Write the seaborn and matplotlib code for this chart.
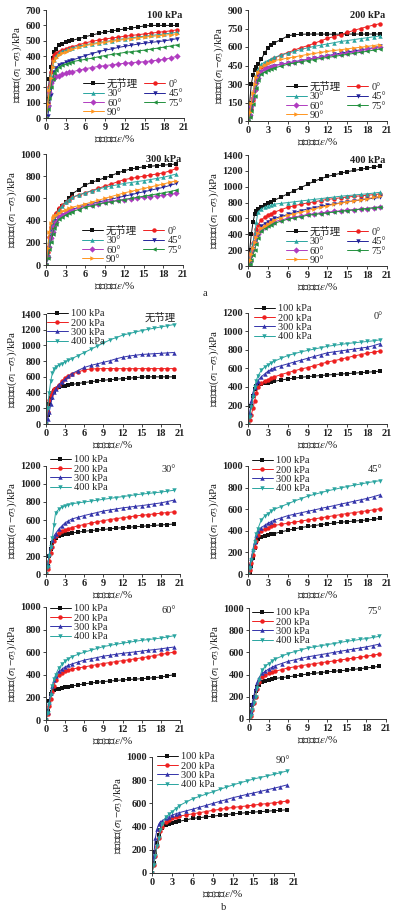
import numpy as np
import pandas as pd
import seaborn as sns
import matplotlib.pyplot as plt

# axial strain (%) shared by all curves
strain = [0, 0.25, 0.5, 0.75, 1, 1.25, 1.5, 2, 2.5, 3, 3.5, 4, 5, 6, 7, 8, 9, 10,
          11, 12, 13, 14, 15, 16, 17, 18, 19, 20]

# deviator stress (kPa), confining pressure 100 kPa
p100_none = [0, 120, 250, 330, 390, 425, 450, 470, 480, 490, 497, 503, 515, 527, 538, 548, 557, 564, 571, 577, 583, 590, 597, 600, 600, 600, 600, 600]
p100_0 = [0, 100, 200, 300, 380, 410, 420, 430, 440, 448, 455, 462, 475, 487, 497, 505, 512, 518, 524, 530, 535, 540, 545, 550, 555, 560, 565, 572]
p100_30 = [0, 90, 200, 280, 340, 375, 400, 420, 432, 440, 448, 455, 466, 475, 482, 489, 495, 502, 509, 515, 520, 525, 530, 535, 540, 545, 550, 555]
p100_45 = [0, 10, 70, 150, 240, 295, 325, 345, 353, 360, 368, 375, 390, 405, 418, 430, 440, 448, 457, 465, 472, 479, 485, 490, 495, 500, 507, 515]
p100_60 = [0, 80, 170, 230, 250, 262, 270, 275, 282, 290, 295, 300, 310, 320, 327, 334, 340, 345, 350, 355, 359, 362, 365, 370, 375, 380, 390, 400]
p100_75 = [0, 60, 130, 200, 250, 290, 310, 330, 342, 350, 358, 365, 373, 380, 388, 397, 405, 412, 418, 425, 430, 435, 440, 447, 453, 460, 467, 475]
p100_90 = [0, 90, 180, 260, 330, 370, 390, 410, 421, 430, 438, 445, 458, 470, 477, 484, 490, 497, 503, 510, 515, 520, 525, 529, 533, 537, 541, 545]

# 200 kPa
p200_none = [0, 150, 300, 370, 410, 440, 460, 500, 550, 590, 615, 635, 660, 690, 700, 703, 705, 705, 705, 704, 704, 704, 705, 705, 705, 705, 705, 705]
p200_0 = [0, 40, 100, 170, 250, 330, 400, 440, 462, 480, 495, 510, 535, 555, 575, 595, 610, 630, 650, 670, 685, 700, 718, 735, 750, 765, 778, 790]
p200_30 = [0, 60, 140, 230, 300, 370, 420, 460, 478, 490, 503, 515, 535, 550, 565, 580, 593, 605, 615, 625, 635, 645, 652, 660, 668, 675, 683, 690]
p200_45 = [0, 40, 100, 180, 250, 310, 360, 400, 418, 430, 440, 450, 460, 470, 480, 490, 500, 510, 520, 530, 540, 550, 560, 568, 577, 585, 595, 605]
p200_60 = [0, 50, 120, 190, 250, 305, 350, 400, 418, 430, 440, 450, 460, 470, 480, 490, 500, 508, 517, 525, 533, 542, 550, 560, 570, 580, 590, 600]
p200_75 = [0, 30, 80, 140, 200, 270, 330, 380, 398, 410, 420, 430, 445, 460, 470, 480, 490, 498, 507, 515, 523, 532, 540, 548, 557, 565, 575, 585]
p200_90 = [0, 70, 150, 230, 300, 360, 400, 440, 458, 470, 480, 490, 500, 510, 520, 530, 540, 548, 557, 565, 572, 578, 585, 592, 598, 605, 612, 620]

# 300 kPa
p300_none = [0, 60, 150, 250, 350, 410, 450, 500, 535, 570, 605, 640, 680, 720, 745, 765, 785, 805, 830, 850, 865, 875, 885, 890, 895, 900, 905, 910]
p300_0 = [0, 120, 250, 340, 400, 440, 470, 510, 540, 570, 590, 610, 630, 650, 670, 690, 710, 730, 750, 770, 780, 790, 800, 810, 820, 830, 848, 870]
p300_30 = [0, 100, 220, 310, 380, 420, 450, 500, 535, 570, 590, 610, 630, 650, 667, 683, 700, 712, 723, 735, 743, 752, 760, 770, 780, 790, 805, 820]
p300_45 = [0, 70, 150, 230, 300, 360, 400, 430, 450, 470, 485, 500, 520, 540, 553, 567, 580, 593, 607, 620, 633, 647, 660, 673, 687, 700, 717, 735]
p300_60 = [0, 70, 160, 240, 300, 350, 390, 430, 450, 470, 483, 495, 513, 530, 542, 553, 565, 573, 582, 590, 597, 603, 610, 617, 623, 630, 638, 645]
p300_75 = [0, 60, 140, 210, 280, 330, 370, 410, 430, 450, 465, 480, 500, 520, 533, 547, 560, 570, 580, 590, 600, 610, 620, 630, 640, 650, 662, 675]
p300_90 = [0, 150, 300, 380, 420, 440, 450, 470, 485, 500, 510, 520, 535, 550, 567, 583, 600, 617, 633, 650, 663, 677, 690, 703, 717, 730, 745, 760]

# 400 kPa
p400_none = [0, 200, 400, 550, 650, 700, 720, 750, 770, 790, 810, 830, 870, 910, 950, 990, 1030, 1070, 1100, 1130, 1150, 1170, 1190, 1205, 1220, 1235, 1250, 1265]
p400_0 = [0, 80, 180, 290, 400, 470, 520, 580, 615, 640, 660, 680, 710, 740, 760, 780, 795, 810, 825, 840, 850, 860, 870, 878, 885, 892, 900, 910]
p400_30 = [0, 80, 200, 300, 400, 550, 680, 720, 742, 760, 770, 780, 790, 800, 810, 820, 830, 840, 850, 860, 870, 880, 888, 895, 903, 910, 920, 930]
p400_45 = [0, 60, 130, 210, 300, 370, 420, 500, 535, 560, 580, 600, 625, 650, 675, 698, 720, 737, 753, 770, 783, 797, 810, 822, 833, 845, 855, 865]
p400_60 = [0, 60, 140, 220, 300, 360, 400, 460, 492, 520, 540, 560, 580, 600, 617, 633, 650, 660, 670, 680, 688, 697, 705, 712, 718, 725, 735, 745]
p400_75 = [0, 30, 80, 140, 200, 280, 350, 440, 475, 500, 520, 540, 565, 590, 607, 623, 640, 650, 660, 670, 680, 690, 700, 708, 717, 725, 735, 745]
p400_90 = [0, 70, 150, 230, 300, 370, 420, 480, 505, 530, 555, 580, 610, 640, 660, 680, 700, 720, 740, 760, 777, 793, 810, 823, 837, 850, 865, 880]

angles = ["无节理", "0°", "30°", "45°", "60°", "75°", "90°"]
pressures = ["100 kPa", "200 kPa", "300 kPa", "400 kPa"]
table = [
    [p100_none, p100_0, p100_30, p100_45, p100_60, p100_75, p100_90],
    [p200_none, p200_0, p200_30, p200_45, p200_60, p200_75, p200_90],
    [p300_none, p300_0, p300_30, p300_45, p300_60, p300_75, p300_90],
    [p400_none, p400_0, p400_30, p400_45, p400_60, p400_75, p400_90],
]

rows = []
for i, p in enumerate(pressures):
    for j, a in enumerate(angles):
        for e, q in zip(strain, table[i][j]):
            rows.append((p, a, e, q))
df = pd.DataFrame(rows, columns=["pressure", "angle", "strain", "q"])

sns.set_style("ticks")
plt.rcParams['font.family'] = ['Liberation Serif', 'Noto Sans CJK SC']
plt.rcParams['mathtext.fontset'] = 'stix'
plt.rcParams['axes.edgecolor'] = '#333333'
plt.rcParams['text.color'] = '#222222'
plt.rcParams['axes.labelcolor'] = '#222222'

angle_style = {"无节理": ("#111111", "s"), "0°": ("#ee2020", "o"), "30°": ("#2aa5a0", "^"),
               "45°": ("#24249a", "v"), "60°": ("#b03cc0", "D"), "75°": ("#23913f", "<"),
               "90°": ("#ff9520", ">")}
press_style = {"100 kPa": ("#111111", "s"), "200 kPa": ("#ee2020", "o"),
               "300 kPa": ("#3333aa", "^"), "400 kPa": ("#2aa5a0", "v")}

W, H = 399, 914
fig = plt.figure(figsize=(W / 100, H / 100), dpi=100)


def add_ax(l, r, t, b):
    return fig.add_axes([l / W, 1 - b / H, (r - l) / W, (b - t) / H])


def style_ax(ax, ymax, ystep):
    ax.set_xlim(0, 21)
    ax.set_ylim(0, ymax)
    xt = np.arange(0, 22, 3)
    yt = np.arange(0, ymax + 1, ystep)
    ax.set_xticks(xt)
    ax.set_xticklabels([str(v) for v in xt], fontweight='bold')
    ax.set_yticks(yt)
    ax.set_yticklabels([str(v) for v in yt], fontweight='bold')
    ax.tick_params(labelsize=7.5, length=2.5, width=0.6, pad=1, colors='#222222')
    sns.despine(ax=ax)
    for s in ["left", "bottom"]:
        ax.spines[s].set_linewidth(0.7)
    ax.set_xlabel(r"轴向应变$\it{\varepsilon}$/%", fontsize=8, labelpad=1)
    ax.set_ylabel(r"主应力差($\sigma_1$−$\sigma_3$)/kPa", fontsize=8, labelpad=1)


def draw(ax, sub, key, styles, order):
    for name in order:
        c, m = styles[name]
        d = sub[sub[key] == name]
        sns.lineplot(data=d, x="strain", y="q", color=c, marker=m, markersize=3.2,
                     markeredgewidth=0, linewidth=0.7, label=name, ax=ax,
                     errorbar=None)


# part a: one panel per confining pressure
a_boxes = [(46, 184, 10, 118), (248, 387, 10, 121), (46, 183, 154, 265), (248, 387, 155, 266)]
a_ylim = [(700, 100), (900, 150), (1000, 200), (1400, 200)]
for k, p in enumerate(pressures):
    ax = add_ax(*a_boxes[k])
    draw(ax, df[df.pressure == p], "angle", angle_style, angles)
    style_ax(ax, *a_ylim[k])
    ax.text(0.985, 0.95, p, transform=ax.transAxes, ha='right', va='center',
            fontsize=7.5, fontweight='bold')
    h, l = ax.get_legend_handles_labels()
    idx = [0, 2, 4, 6, 1, 3, 5]
    ax.legend([h[i] for i in idx], [l[i] for i in idx], ncol=2, loc='lower right',
              frameon=False, fontsize=7.5, borderaxespad=0.1, borderpad=0,
              labelspacing=0.0, columnspacing=0.6, handlelength=2.0,
              handletextpad=0.3)

fig.text(205 / W, 1 - 293 / H, "a", fontsize=7.5, ha='center', va='center')

# part b: one panel per joint angle
b_boxes = [(46, 180, 314, 424), (248, 387, 313, 424), (46, 180, 466, 574),
           (248, 387, 466, 574), (46, 180, 607, 720), (249, 386, 608, 719),
           (152, 294, 757, 873)]
b_ylim = [1400, 1200, 1200, 1000, 1000, 1000, 1000]
b_leg = [(47, 309), (254, 304), (50, 455), (252, 456), (50, 604), (252, 608), (157, 752)]
for k, a in enumerate(angles):
    ax = add_ax(*b_boxes[k])
    draw(ax, df[df.angle == a], "pressure", press_style, pressures)
    style_ax(ax, b_ylim[k], 200)
    ax.text(0.97, 0.97, a, transform=ax.transAxes, ha='right', va='center',
            fontsize=7.5)
    lx, ly = b_leg[k]
    ax.legend(loc='upper left', bbox_to_anchor=(lx / W, 1 - ly / H),
              bbox_transform=fig.transFigure, frameon=False, fontsize=7.5,
              borderaxespad=0, borderpad=0, labelspacing=0.0,
              handlelength=2.0, handletextpad=0.3)

fig.text(224 / W, 1 - 907 / H, "b", fontsize=7.5, ha='center', va='center')

fig.savefig("out.png", dpi=100)
